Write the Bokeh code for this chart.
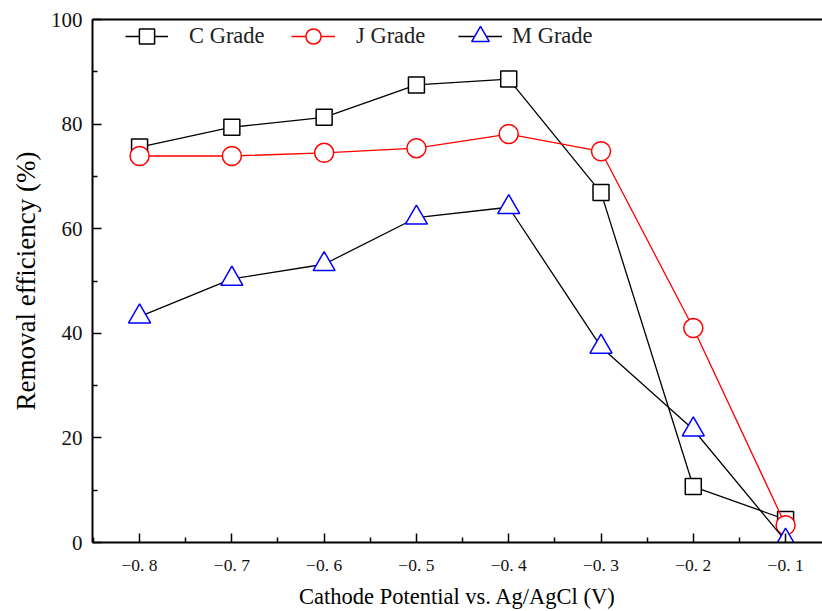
from bokeh.plotting import figure
from bokeh.models import Legend, LegendItem, LinearAxis, FixedTicker, Range1d
from bokeh.embed import file_html
from bokeh.resources import INLINE

# ---- data ----
potential = [-0.8, -0.7, -0.6, -0.5, -0.4, -0.3, -0.2, -0.1]
c_grade = [75.6, 79.4, 81.3, 87.5, 88.6, 66.9, 10.7, 4.4]
j_grade = [73.9, 73.9, 74.5, 75.4, 78.1, 74.8, 41.0, 3.3]
m_grade = [43.2, 50.4, 53.2, 62.1, 64.1, 37.4, 21.6, 0.3]

x_ticks = [-0.8, -0.7, -0.6, -0.5, -0.4, -0.3, -0.2, -0.1]
x_tick_labels = ["−0. 8", "−0. 7", "−0. 6", "−0. 5", "−0. 4", "−0. 3", "−0. 2", "−0. 1"]
x_minor = [-0.85, -0.75, -0.65, -0.55, -0.45, -0.35, -0.25, -0.15, -0.05]
y_ticks = [0, 20, 40, 60, 80, 100]
y_minor = [10, 30, 50, 70, 90]

SERIF = "Liberation Serif"

p = figure(width=822, height=611, output_backend="svg", toolbar_location=None,
           x_range=Range1d(-0.851, -0.06), y_range=Range1d(0, 100),
           min_border_left=92, min_border_right=0, min_border_top=19, min_border_bottom=68)
p.outline_line_color = None
p.xgrid.visible = False
p.ygrid.visible = False
p.background_fill_color = "white"
p.border_fill_color = "white"

xa = p.xaxis[0]
xa.ticker = FixedTicker(ticks=x_ticks, minor_ticks=x_minor)
xa.major_label_overrides = {t: l for t, l in zip(x_ticks, x_tick_labels)}
ya = p.yaxis[0]
ya.ticker = FixedTicker(ticks=y_ticks, minor_ticks=y_minor)

for ax in (xa, ya):
    ax.axis_line_width = 2
    ax.axis_line_color = "black"
    ax.major_tick_in = 9
    ax.major_tick_out = 0
    ax.minor_tick_in = 5
    ax.minor_tick_out = 0
    ax.major_tick_line_width = 1.5
    ax.minor_tick_line_width = 1.5
    ax.major_tick_line_color = "black"
    ax.minor_tick_line_color = "black"
    ax.major_label_text_font = SERIF
    ax.major_label_text_color = "#111111"
    ax.axis_label_text_font = SERIF
    ax.axis_label_text_font_style = "normal"
    ax.axis_label_text_color = "black"

xa.major_label_text_font_size = "17.5px"
xa.major_label_standoff = 12
xa.axis_label = "Cathode Potential vs. Ag/AgCl (V)"
xa.axis_label_text_font_size = "22.5px"
xa.axis_label_standoff = 6
ya.major_label_text_font_size = "21px"
ya.major_label_standoff = 10
ya.axis_label = "Removal efficiency (%)"
ya.axis_label_text_font_size = "27px"
ya.axis_label_standoff = 7

top = LinearAxis(ticker=FixedTicker(ticks=[]), axis_line_width=2, axis_line_color="black",
                 major_label_text_font_size="0px", major_tick_in=0, major_tick_out=0,
                 minor_tick_in=0, minor_tick_out=0, major_label_standoff=0)
p.add_layout(top, "above")

series = [
    (c_grade, "C Grade", "black", "black", "square", 16),
    (j_grade, "J Grade", "red", "red", "circle", 19),
    (m_grade, "M Grade", "black", "blue", "triangle", 22),
]
renders = []
for vals, name, lc, mc, mk, sz in series:
    ln = p.line(potential, vals, line_color=lc, line_width=1.3)
    sc = p.scatter(potential, vals, marker=mk, size=sz, fill_color="white",
                   line_color=mc, line_width=1.5)
    renders.append((name, ln, sc))

leg_cfg = [
    (33, 487, 38, 43, 21),
    (199, 487, 38, 44, 21),
    (366, 480, 52, 44, 10),
]
for (name, ln, sc), (vx, vy, gh, gw, so) in zip(renders, leg_cfg):
    lg = Legend(items=[LegendItem(label=name, renderers=[ln, sc])],
                location=(vx, vy), orientation="horizontal",
                glyph_height=gh, glyph_width=gw, label_standoff=so,
                padding=0, margin=0, spacing=0,
                border_line_color=None, background_fill_alpha=0,
                label_text_font=SERIF, label_text_font_size="22.5px",
                label_text_color="#222222")
    p.add_layout(lg, "center")

open("out.html", "w").write(file_html(p, INLINE))
